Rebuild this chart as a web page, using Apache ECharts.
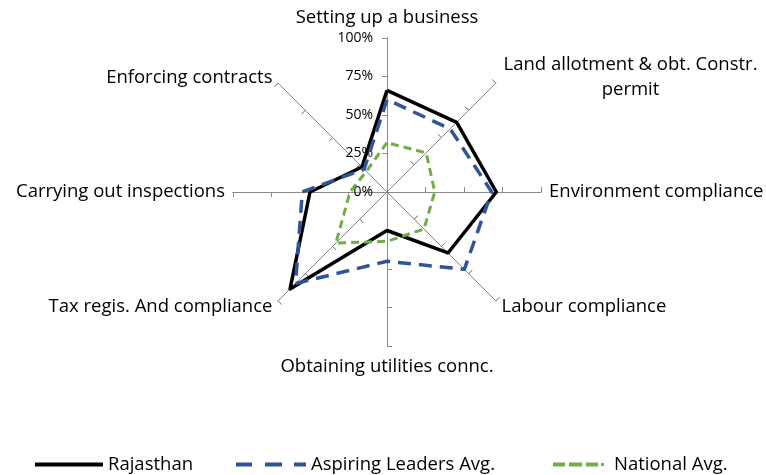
<!DOCTYPE html>
<html>
<head>
<meta charset="utf-8">
<script src="https://cdn.jsdelivr.net/npm/echarts@6/dist/echarts.min.js"></script>
<style>
  html, body { margin: 0; padding: 0; background: #fff; }
  #chart { width: 766px; height: 475px; }
</style>
</head>
<body>
<div id="chart"></div>
<script>
// clockwise from the top, as in the picture
const categories = [
  'Setting up a business',
  'Land allotment & obt. Constr.\npermit',
  'Environment compliance',
  'Labour compliance',
  'Obtaining utilities connc.',
  'Tax regis. And compliance',
  'Carrying out inspections',
  'Enforcing contracts'
]
const seriesNames = ['Rajasthan', 'Aspiring Leaders Avg.', 'National Avg.']
const rajasthan = [0.66, 0.64, 0.71, 0.56, 0.25, 0.89, 0.50, 0.23]
const aspiringLeaders = [0.60, 0.58, 0.68, 0.71, 0.45, 0.84, 0.55, 0.21]
const nationalAvg = [0.32, 0.36, 0.31, 0.34, 0.32, 0.47, 0.24, 0.19]
const tickLabels = ['0%', '25%', '50%', '75%', '100%']

const FONT = 'Open Sans'
const CENTER = [387, 192]
const RADIUS = 154
const AXIS_GREY = '#8a8a8a'

// echarts lays radar indicators out counter-clockwise, so flip the tail
function toRadarOrder(arr) {
  return [arr[0]].concat(arr.slice(1).reverse())
}

const indicators = toRadarOrder(categories).map(name => ({ name, min: 0, max: 1 }))

function radarBase(withNames, tickInside) {
  return {
    center: CENTER,
    radius: RADIUS,
    startAngle: 90,
    splitNumber: 4,
    shape: 'polygon',
    indicator: indicators,
    axisName: {
      show: withNames,
      color: '#000',
      fontFamily: FONT,
      fontSize: 18.5,
      lineHeight: 25,
      formatter: name => name.includes('\n') ? `{c|${name}}` : name,
      rich: { c: { width: 258, align: 'center', fontFamily: FONT, fontSize: 18.5, lineHeight: 25, color: '#000' } }
    },
    nameGap: 8,
    axisLine: { lineStyle: { color: AXIS_GREY, width: 1 } },
    axisTick: { show: true, inside: tickInside, length: 5, lineStyle: { color: AXIS_GREY, width: 1 } },
    axisLabel: { show: false },
    splitLine: { show: false },
    splitArea: { show: false }
  }
}

// legend "left" counts its 5px padding, text sits 5px after the icon
function legendAt(left, name, icon, width, pad) {
  return {
    left, top: 450,
    itemWidth: width,
    itemHeight: 4,
    icon,
    textStyle: { fontFamily: FONT, fontSize: 18.5, color: '#000', padding: [0, 0, 0, pad] },
    data: [name]
  }
}

const chart = echarts.init(document.getElementById('chart'), null, { renderer: 'canvas' })

chart.setOption({
  backgroundColor: '#fff',
  animation: false,
  legend: [
    legendAt(30, seriesNames[0], 'path://M0,0h68v4h-68z', 68, 0),
    legendAt(231, seriesNames[1], 'path://M0,0h16v4h-16zM29,0h17v4h-17zM58,0h12v4h-12z', 70, 0),
    legendAt(548, seriesNames[2], 'path://M0,0h12v4h-12zM16,0h13v4h-13zM33,0h12v4h-12zM48,0.5h3v3h-3z', 51, 5)
  ],
  radar: [radarBase(true, false), radarBase(false, true)],
  polar: { center: CENTER, radius: RADIUS },
  angleAxis: {
    type: 'value', startAngle: 90, min: 0, max: 360,
    show: false
  },
  radiusAxis: {
    type: 'value', min: 0, max: 1, interval: 0.25,
    axisLine: { show: false },
    axisTick: { show: false },
    splitLine: { show: false },
    axisLabel: {
      fontFamily: FONT, fontSize: 14, color: '#000', margin: 14,
      formatter: v => tickLabels[Math.round(v / 0.25)]
    }
  },
  series: [{
    type: 'radar',
    radarIndex: 0,
    symbol: 'none',
    data: [
      {
        name: seriesNames[0],
        value: toRadarOrder(rajasthan),
        lineStyle: { color: '#000', width: 3.5 },
        itemStyle: { color: '#000' }
      },
      {
        name: seriesNames[1],
        value: toRadarOrder(aspiringLeaders),
        lineStyle: { color: '#2F5597', width: 3.5, type: [13, 8] },
        itemStyle: { color: '#2F5597' }
      },
      {
        name: seriesNames[2],
        value: toRadarOrder(nationalAvg),
        lineStyle: { color: '#70AD47', width: 3, type: [8, 5] },
        itemStyle: { color: '#70AD47' }
      }
    ]
  }]
})
</script>
</body>
</html>
